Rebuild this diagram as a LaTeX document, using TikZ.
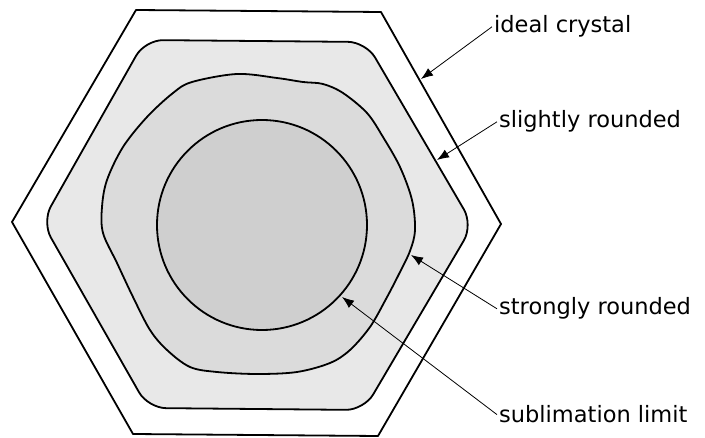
\documentclass[tikz,border=0pt]{standalone}
\usepackage{fontspec}
\setmainfont{DejaVu Sans}
\usetikzlibrary{arrows.meta,positioning}

\begin{document}
\begin{tikzpicture}[
  x=1pt, y=-1pt,
  font=\fontsize{22.5}{25}\selectfont,
  >={Latex[length=12pt,width=9pt]},
  outline/.style={line width=1.8pt, draw=black, line join=round},
  pointer/.style={->, line width=0.8pt, draw=black},
  tag/.style={anchor=base west, inner sep=2pt}
]
\useasboundingbox (0,0) rectangle (705,438);

% Ideal crystal and the rounded stages inside it.
\draw[outline, fill=white]
  (136,10) -- (381,12) -- (501,224) -- (378,436) -- (133,434) -- (12,222) -- cycle;
\draw[outline, fill=black!9, rounded corners=18pt]
  (145,40) -- (366,42) -- (473,225) -- (364,410) -- (148,408) -- (42,222) -- cycle;
\draw[outline, fill=black!14] plot[smooth cycle, tension=0.55] coordinates {
  (237,74) (277,78) (303,82) (323,84) (343,93) (367,113) (383,137) (400,167)
  (412,200) (415,230) (410,251) (399,274) (386,299) (370,327) (350,350) (330,363)
  (297,372) (257,374) (217,372) (190,367) (167,350) (150,330) (133,297) (117,263)
  (103,233) (102,207) (107,180) (123,147) (147,117) (173,93) (192,82)};
\draw[outline, fill=black!19] (262,225) circle[radius=105];

% Points where the pointers touch the outlines.
\coordinate (hexedge) at (421,79);
\coordinate (slightedge) at (437,160);
\coordinate (strongedge) at (411,255);
\coordinate (limitedge) at (342,297);

% Labels on the right.
\node[tag] (ideal) at (492,33) {ideal crystal};
\node[tag] (slight) at (497,128) {slightly rounded};
\node[tag] (strong) at (497,315) {strongly rounded};
\node[tag] (limit) at (497,423) {sublimation limit};

\draw[pointer] (ideal.west) -- (hexedge);
\draw[pointer] (slight.west) -- (slightedge);
\draw[pointer] (strong.west) -- (strongedge);
\draw[pointer] (limit.west) -- (limitedge);

\end{tikzpicture}
\end{document}
